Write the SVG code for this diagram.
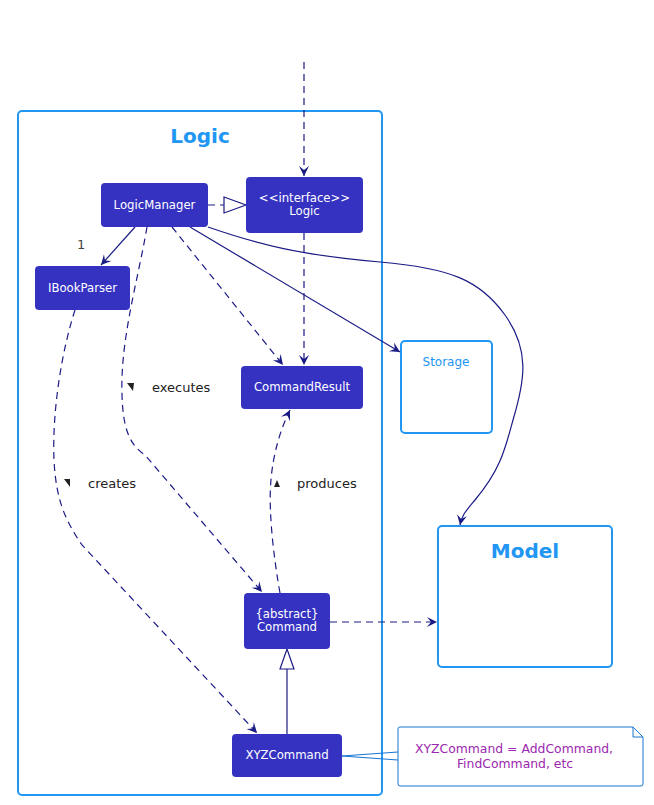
<svg xmlns="http://www.w3.org/2000/svg" width="654" height="805" viewBox="0 0 654 805">
<defs>
<style>
.pkg{fill:none;stroke:#2196F3;stroke-width:2}
.pkgt{font-family:"DejaVu Sans",sans-serif;font-weight:bold;font-size:20px;fill:#2196F3;text-anchor:middle}
.node{fill:#3532C2}
.nt{font-family:"DejaVu Sans",sans-serif;font-size:11.7px;fill:#ffffff;text-anchor:middle}
.ln{fill:none;stroke:#1B1B85;stroke-width:1.2}
.ds{stroke-dasharray:7,5}
.lbl{font-family:"DejaVu Sans",sans-serif;font-size:13px;fill:#222222}
.note{fill:#ffffff;stroke:#1976D2;stroke-width:1}
.notet{font-family:"DejaVu Sans",sans-serif;font-size:12.4px;fill:#9C27B0;text-anchor:middle}
</style>
<marker id="arr" markerUnits="userSpaceOnUse" markerWidth="14" markerHeight="12" viewBox="-11 -6 12 12" refX="0" refY="0" orient="auto">
<path d="M-10,-5 L0,0 L-10,5 L-6,0 Z" fill="#1B1B85"/>
</marker>
</defs>

<g id="logic-package">
<rect class="pkg" x="18" y="111" width="364" height="684" rx="4"/>
<text class="pkgt" x="200" y="143">Logic</text>
</g>

<g id="storage">
<rect class="pkg" x="401" y="341" width="91" height="92" rx="4"/>
<text x="446" y="366" style="font-family:'DejaVu Sans',sans-serif;font-size:12px;fill:#2196F3;text-anchor:middle">Storage</text>
</g>

<g id="model">
<rect class="pkg" x="438" y="526" width="174" height="141" rx="4"/>
<text class="pkgt" x="525" y="558">Model</text>
</g>

<g id="connectors">
<path class="ln ds" d="M304,62 L304,176" marker-end="url(#arr)"/>
<path class="ln ds" d="M208,205 L224,205"/>
<polygon points="224,197 246,205 224,213" fill="#ffffff" stroke="#1B1B85" stroke-width="1.2"/>
<path class="ln" d="M135,227 L101,265" marker-end="url(#arr)"/>
<path class="ln ds" d="M304,233 L304,365" marker-end="url(#arr)"/>
<path class="ln ds" d="M172,227 L283,365" marker-end="url(#arr)"/>
<path class="ln" d="M190,227 L400,352" marker-end="url(#arr)"/>
<path class="ln" d="M208,227 C260,245 300,255 380,262 C450,268 480,280 505,315 C530,350 525,380 513,420 C505,450 500,470 475,500 C465,512 462,515 460,525" marker-end="url(#arr)"/>
<path class="ln ds" d="M147,227 C138,280 120,340 122,395 C123,430 130,445 145,455 L262,592" marker-end="url(#arr)"/>
<path class="ln ds" d="M75,310 C62,350 52,410 54,460 C56,500 65,520 82,545 L257,733" marker-end="url(#arr)"/>
<path class="ln ds" d="M280,593 C274,560 268,510 271,480 C273,455 280,430 290,410" marker-end="url(#arr)"/>
<path class="ln ds" d="M330,622 L437,622" marker-end="url(#arr)"/>
<path class="ln" d="M287,734 L287,669"/>
<polygon points="280,669 287,649 294,669" fill="#ffffff" stroke="#1B1B85" stroke-width="1.2"/>
<path d="M342,756 L398,752 M342,756 L398,760" fill="none" stroke="#1976D2" stroke-width="1"/>
</g>

<g id="labels">
<text class="lbl" x="77" y="249" style="fill:#444">1</text>
<polygon points="127,383 134,383 133,391" fill="#222"/>
<text class="lbl" x="152" y="392">executes</text>
<polygon points="64,479 70,479 70,487" fill="#222"/>
<text class="lbl" x="88" y="488">creates</text>
<polygon points="277,480 274,487 280,487" fill="#222"/>
<text class="lbl" x="297" y="488">produces</text>
</g>

<g id="LogicManager">
<rect class="node" x="101" y="183" width="107" height="44" rx="4"/>
<text class="nt" x="154.5" y="209">LogicManager</text>
</g>

<g id="LogicInterface">
<rect class="node" x="246" y="177" width="117" height="56" rx="4"/>
<text class="nt" x="304.5" y="202">&lt;&lt;interface&gt;&gt;</text>
<text class="nt" x="304.5" y="215">Logic</text>
</g>

<g id="IBookParser">
<rect class="node" x="35" y="266" width="95" height="44" rx="4"/>
<text class="nt" x="82.5" y="292">IBookParser</text>
</g>

<g id="CommandResult">
<rect class="node" x="241" y="366" width="122" height="43" rx="4"/>
<text class="nt" x="302" y="391">CommandResult</text>
</g>

<g id="Command">
<rect class="node" x="244" y="593" width="86" height="56" rx="4"/>
<text class="nt" x="287" y="618">{abstract}</text>
<text class="nt" x="287" y="631">Command</text>
</g>

<g id="XYZCommand">
<rect class="node" x="232" y="734" width="110" height="43" rx="4"/>
<text class="nt" x="287" y="759">XYZCommand</text>
</g>

<g id="note">
<path class="note" d="M398,729 Q398,727 400,727 L633,727 L643,737 L643,784 Q643,786 641,786 L400,786 Q398,786 398,784 Z"/>
<path d="M633,727 L633,737 L643,737" fill="none" stroke="#1976D2" stroke-width="1"/>
<text class="notet" x="514" y="753">XYZCommand = AddCommand,</text>
<text class="notet" x="515" y="768">FindCommand, etc</text>
</g>
</svg>
